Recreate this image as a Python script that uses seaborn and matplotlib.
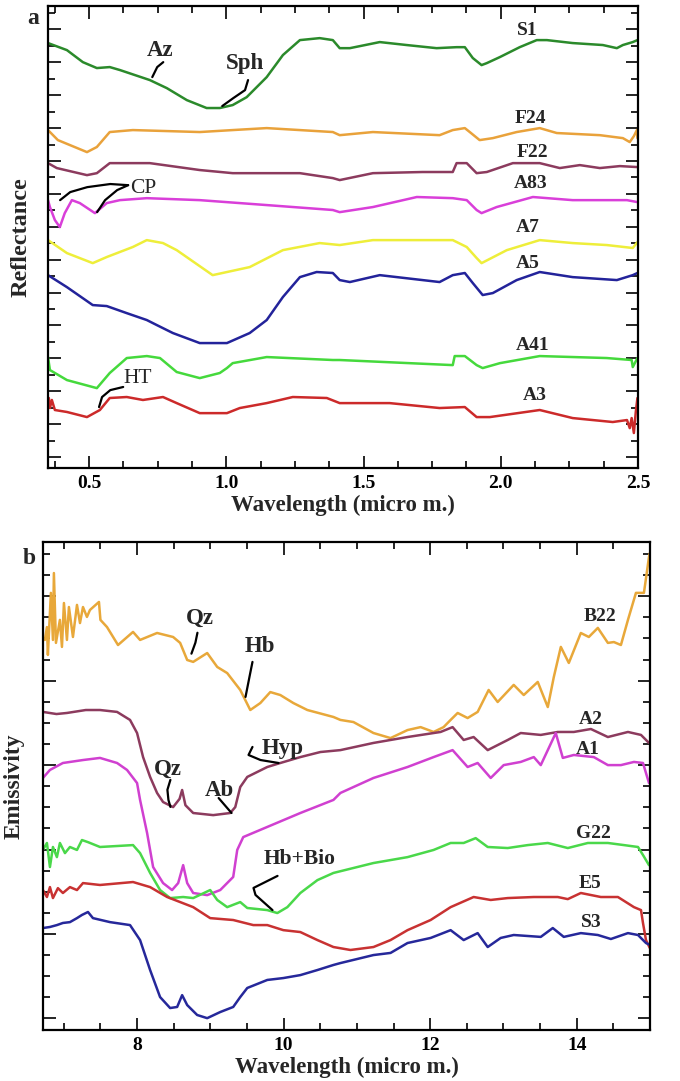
import matplotlib
matplotlib.use("Agg")
import matplotlib.pyplot as plt
from matplotlib.ticker import MultipleLocator, FixedLocator, NullFormatter
import seaborn as sns

sns.set_style("ticks")
plt.rcParams['font.family'] = ['Liberation Serif', 'DejaVu Serif']
plt.rcParams['font.weight'] = 'bold'
plt.rcParams['axes.labelweight'] = 'bold'

# ------------------------------------------------------------
# panel a : VNIR-SWIR reflectance (stacked, arbitrary offsets)
# ------------------------------------------------------------
s1_wl = [0.350, 0.419, 0.477, 0.528, 0.575, 0.612, 0.721, 0.783, 0.856, 0.928, 0.976, 1.023, 1.074,
         1.147, 1.206, 1.268, 1.340, 1.388, 1.413, 1.450, 1.559, 1.657, 1.766, 1.839, 1.869, 1.898,
         1.930, 1.949, 1.997, 2.069, 2.131, 2.168, 2.262, 2.372, 2.423, 2.445, 2.481, 2.498]
s1_r = [25.17, 24.74, 24.01, 23.65, 23.71, 23.53, 22.92, 22.43, 21.70, 21.22, 21.22, 21.40, 21.88,
        23.10, 24.44, 25.35, 25.47, 25.35, 24.86, 24.86, 25.23, 25.05, 24.86, 24.92, 24.92, 24.26,
        23.83, 23.95, 24.32, 24.92, 25.35, 25.35, 25.17, 25.05, 24.86, 25.05, 25.23, 25.35]

f24_wl = [0.350, 0.386, 0.492, 0.528, 0.575, 0.659, 0.903, 1.023, 1.147, 1.388, 1.413, 1.534, 1.777,
          1.825, 1.869, 1.887, 1.923, 1.971, 2.058, 2.142, 2.204, 2.361, 2.445, 2.470, 2.485, 2.496, 2.498]
f24_r = [19.88, 19.27, 18.54, 18.85, 19.76, 19.88, 19.76, 19.88, 20.00, 19.76, 19.57, 19.76, 19.57,
         19.88, 20.00, 19.76, 19.27, 19.39, 19.76, 20.00, 19.70, 19.57, 19.39, 19.15, 19.51, 19.88, 19.39]

f22_wl = [0.350, 0.382, 0.492, 0.528, 0.575, 0.721, 0.903, 1.023, 1.268, 1.388, 1.413, 1.534, 1.715,
          1.825, 1.839, 1.876, 1.912, 1.949, 2.044, 2.142, 2.215, 2.288, 2.361, 2.434, 2.498]
f22_r = [17.87, 17.57, 17.14, 17.26, 17.87, 17.87, 17.45, 17.26, 17.26, 16.96, 16.84, 17.26, 17.33,
         17.33, 17.87, 17.87, 17.26, 17.33, 17.87, 17.87, 17.57, 17.75, 17.57, 17.69, 17.63]

a83_wl = [0.350, 0.357, 0.375, 0.393, 0.411, 0.437, 0.466, 0.521, 0.564, 0.612, 0.710, 0.903, 1.147,
          1.388, 1.413, 1.534, 1.694, 1.825, 1.876, 1.912, 1.930, 1.985, 2.117, 2.262, 2.460, 2.498]
a83_r = [15.62, 15.20, 14.41, 13.98, 14.83, 15.62, 15.44, 14.83, 15.44, 15.62, 15.74, 15.62, 15.32,
         15.02, 14.89, 15.20, 15.81, 15.74, 15.62, 15.02, 14.83, 15.20, 15.81, 15.62, 15.62, 15.50]

a7_wl = [0.350, 0.419, 0.513, 0.564, 0.659, 0.710, 0.769, 0.819, 0.950, 1.085, 1.206, 1.340, 1.413,
         1.534, 1.825, 1.876, 1.912, 1.930, 2.022, 2.142, 2.262, 2.386, 2.481, 2.498]
a7_r = [13.19, 12.40, 11.79, 12.16, 12.77, 13.19, 13.01, 12.58, 11.06, 11.55, 12.58, 13.01, 12.89,
        13.19, 13.19, 12.77, 12.10, 11.79, 12.58, 13.19, 13.01, 12.89, 12.71, 13.07]

a5_wl = [0.350, 0.419, 0.513, 0.564, 0.637, 0.710, 0.747, 0.805, 0.903, 1.002, 1.085, 1.147, 1.206,
         1.268, 1.329, 1.388, 1.413, 1.450, 1.559, 1.777, 1.825, 1.869, 1.898, 1.934, 1.971, 2.058,
         2.142, 2.262, 2.423, 2.481, 2.498]
a5_r = [11.06, 10.33, 9.24, 9.18, 8.75, 8.33, 8.02, 7.54, 6.93, 6.93, 7.54, 8.33, 9.73,
        10.94, 11.25, 11.19, 10.76, 10.64, 11.06, 10.64, 11.06, 11.19, 10.58, 9.85, 9.97, 10.76,
        11.25, 10.94, 10.76, 11.06, 11.19]

a41_wl = [0.350, 0.357, 0.419, 0.528, 0.575, 0.637, 0.710, 0.758, 0.819, 0.903, 0.976, 1.002, 1.023,
          1.147, 1.388, 1.413, 1.825, 1.832, 1.869, 1.912, 1.934, 1.997, 2.142, 2.386, 2.477, 2.481, 2.498]
a41_r = [6.08, 5.29, 4.68, 4.19, 5.11, 6.02, 6.14, 6.02, 5.17, 4.80, 5.11, 5.41, 5.71,
         6.08, 5.90, 5.90, 5.59, 6.14, 6.14, 5.59, 5.41, 5.71, 6.14, 6.02, 5.90, 5.47, 6.02]

a3_wl = [0.350, 0.353, 0.357, 0.364, 0.375, 0.419, 0.492, 0.539, 0.575, 0.637, 0.696, 0.769, 0.819,
         0.903, 1.002, 1.049, 1.147, 1.242, 1.366, 1.413, 1.595, 1.777, 1.869, 1.912, 1.960, 2.142,
         2.262, 2.408, 2.460, 2.470, 2.477, 2.485, 2.492, 2.498]
a3_r = [3.28, 3.59, 2.98, 3.47, 2.86, 2.74, 2.43, 2.86, 3.59, 3.65, 3.47, 3.65, 3.28,
        2.67, 2.67, 2.98, 3.28, 3.65, 3.59, 3.28, 3.28, 2.98, 3.04, 2.43, 2.43, 2.86,
        2.37, 2.13, 2.25, 1.76, 2.37, 1.46, 2.74, 3.59]

# ------------------------------------------------------------
# panel b : TIR emissivity (stacked, arbitrary offsets)
# ------------------------------------------------------------
b22_wl = [6.742, 6.770, 6.783, 6.824, 6.852, 6.865, 6.893, 6.947, 6.975, 7.002, 7.043, 7.070, 7.125,
          7.180, 7.221, 7.262, 7.316, 7.357, 7.480, 7.500, 7.590, 7.740, 7.945, 8.041, 8.273, 8.492,
          8.588, 8.684, 8.766, 8.957, 9.094, 9.230, 9.408, 9.545, 9.682, 9.818, 9.955, 10.133, 10.324,
          10.680, 10.775, 10.953, 11.226, 11.459, 11.691, 11.869, 12.047, 12.183, 12.279, 12.375,
          12.511, 12.648, 12.798, 12.921, 13.140, 13.277, 13.468, 13.605, 13.687, 13.783, 13.892,
          14.056, 14.165, 14.288, 14.425, 14.507, 14.603, 14.699, 14.808, 14.917, 14.986, 14.998]
b22_e = [17.93, 18.54, 17.22, 20.16, 17.93, 21.10, 17.79, 18.88, 17.60, 19.68, 17.93, 19.49, 18.07,
         19.59, 18.73, 19.49, 19.02, 19.35, 19.73, 18.88, 18.54, 17.69, 18.31, 17.93, 18.26, 18.07,
         17.79, 16.98, 16.89, 17.31, 16.65, 16.36, 15.56, 14.61, 14.94, 15.46, 15.32, 14.94, 14.61,
         14.28, 14.14, 14.04, 13.52, 13.28, 13.66, 13.80, 13.57, 13.80, 14.14, 14.47,
         14.23, 14.52, 15.56, 14.99, 15.80, 15.32, 15.94, 14.75, 16.17, 17.60, 16.84,
         18.26, 18.07, 18.50, 17.79, 17.83, 17.69, 18.88, 20.16, 20.16, 21.86, 22.05]

a2_wl = [6.715, 6.900, 7.043, 7.300, 7.494, 7.727, 7.904, 8.000, 8.082, 8.178, 8.273, 8.355, 8.492,
         8.580, 8.615, 8.660, 8.766, 9.039, 9.271, 9.340, 9.408, 9.504, 9.777, 9.955, 10.228, 10.502,
         10.775, 11.226, 11.691, 12.142, 12.306, 12.457, 12.593, 12.785, 13.058, 13.236, 13.509,
         13.741, 13.960, 14.193, 14.425, 14.699, 14.877, 14.986]
a2_e = [14.52, 14.42, 14.47, 14.61, 14.61, 14.52, 14.14, 13.52, 12.38, 11.44, 10.68, 10.25, 10.01,
        10.40, 10.82, 10.10, 9.73, 9.63, 9.73, 10.01, 10.96, 11.44, 11.91, 12.10, 12.38, 12.62,
        12.71, 13.05, 13.33, 13.57, 13.80, 13.19, 13.33, 12.71, 13.19, 13.52, 13.43,
        13.57, 13.57, 13.71, 13.33, 13.57, 13.43, 13.05]

a1_wl = [6.715, 6.811, 6.988, 7.262, 7.494, 7.727, 7.863, 8.000, 8.041, 8.137, 8.219, 8.355, 8.478,
         8.561, 8.629, 8.684, 8.766, 8.957, 9.135, 9.312, 9.367, 9.449, 9.777, 10.228, 10.680, 10.775,
         11.226, 11.691, 12.047, 12.306, 12.511, 12.648, 12.826, 13.003, 13.236, 13.414, 13.509,
         13.605, 13.714, 13.810, 13.960, 14.233, 14.425, 14.603, 14.781, 14.904, 14.986]
a1_e = [11.39, 11.77, 12.10, 12.24, 12.34, 12.10, 11.77, 11.15, 10.35, 8.78, 7.17, 6.41, 6.08,
        6.41, 7.26, 6.41, 5.94, 5.84, 6.08, 6.70, 7.98, 8.59, 9.07, 9.73, 10.35, 10.68,
        11.39, 11.91, 12.38, 12.71, 11.91, 12.10, 11.39, 12.00, 12.15, 12.38, 12.00,
        12.71, 13.52, 12.34, 12.48, 12.38, 12.00, 12.00, 12.15, 12.10, 11.15]

g22_wl = [6.715, 6.770, 6.811, 6.852, 6.906, 6.947, 7.016, 7.084, 7.180, 7.248, 7.330, 7.494, 7.945,
          8.041, 8.178, 8.314, 8.451, 8.629, 8.766, 8.998, 9.094, 9.230, 9.408, 9.504, 9.777, 9.914,
          10.051, 10.228, 10.461, 10.680, 11.226, 11.691, 12.047, 12.279, 12.457, 12.621, 12.785,
          13.058, 13.331, 13.605, 13.878, 14.152, 14.425, 14.644, 14.836, 14.904, 14.986]
g22_e = [7.98, 8.31, 7.17, 8.12, 7.64, 8.31, 7.83, 8.12, 7.98, 8.45, 8.35, 8.12, 8.21,
         7.83, 6.89, 6.08, 5.70, 5.75, 5.70, 6.08, 5.61, 5.27, 5.51, 5.23, 5.13, 4.99,
         5.27, 5.94, 6.55, 6.89, 7.36, 7.64, 7.98, 8.31, 8.31, 8.54, 8.12,
         8.07, 8.21, 8.31, 8.07, 8.31, 8.31, 8.21, 8.12, 7.74, 7.26]

e5_wl = [6.715, 6.770, 6.811, 6.852, 6.920, 6.988, 7.084, 7.180, 7.262, 7.494, 7.945, 8.178, 8.410,
         8.588, 8.766, 8.998, 9.312, 9.586, 9.777, 9.996, 10.228, 10.461, 10.680, 10.912, 11.226,
         11.459, 11.691, 12.006, 12.279, 12.593, 12.826, 13.058, 13.414, 13.741, 13.878, 14.056,
         14.329, 14.562, 14.781, 14.877, 14.904, 14.945, 14.998]
e5_e = [6.08, 5.75, 6.22, 5.70, 6.17, 5.94, 6.22, 6.08, 6.41, 6.32, 6.46, 6.22, 5.75,
        5.51, 5.27, 4.75, 4.66, 4.42, 4.42, 4.18, 4.09, 3.71, 3.38, 3.24, 3.38,
        3.71, 4.18, 4.66, 5.27, 5.75, 5.61, 5.70, 5.75, 5.75, 5.65, 5.94,
        5.75, 5.75, 5.27, 5.13, 4.52, 3.71, 3.33]

s3_wl = [6.715, 6.811, 6.906, 6.988, 7.084, 7.180, 7.248, 7.330, 7.398, 7.631, 7.904, 8.041, 8.178,
         8.314, 8.451, 8.547, 8.615, 8.684, 8.820, 8.957, 9.135, 9.312, 9.408, 9.504, 9.777, 9.996,
         10.228, 10.461, 10.680, 10.775, 11.226, 11.459, 11.691, 12.006, 12.279, 12.457, 12.648,
         12.785, 12.962, 13.140, 13.509, 13.673, 13.823, 14.056, 14.288, 14.466, 14.699, 14.836,
         14.945, 14.998]
s3_e = [4.28, 4.33, 4.42, 4.52, 4.56, 4.75, 4.90, 5.04, 4.75, 4.56, 4.42, 3.71, 2.29,
        1.01, 0.49, 0.54, 1.10, 0.63, 0.16, 0.01, 0.30, 0.54, 1.01, 1.44, 1.82, 1.91,
        2.05, 2.29, 2.53, 2.62, 3.00, 3.10, 3.57, 3.81, 4.18, 3.71, 4.04,
        3.38, 3.81, 3.95, 3.86, 4.28, 3.86, 4.04, 3.95, 3.76, 4.04, 3.95,
        3.57, 3.48]

refl_curves = [("S1", s1_wl, s1_r, "#2b8a2b"), ("F24", f24_wl, f24_r, "#e9a23b"),
               ("F22", f22_wl, f22_r, "#8c3b5e"), ("A83", a83_wl, a83_r, "#d93fd9"),
               ("A7", a7_wl, a7_r, "#eeee3a"), ("A5", a5_wl, a5_r, "#23239a"),
               ("A41", a41_wl, a41_r, "#45d93c"), ("A3", a3_wl, a3_r, "#cc2a2a")]
emis_curves = [("B22", b22_wl, b22_e, "#e8a83a"), ("A2", a2_wl, a2_e, "#8c3b5e"),
               ("A1", a1_wl, a1_e, "#d040d0"), ("G22", g22_wl, g22_e, "#4ad84a"),
               ("E5", e5_wl, e5_e, "#c83232"), ("S3", s3_wl, s3_e, "#26289a")]


def style_axes(ax, xmaj, xmin, ymaj, ymin):
    ax.xaxis.set_major_locator(FixedLocator(xmaj))
    ax.xaxis.set_minor_locator(MultipleLocator(xmin))
    ax.yaxis.set_major_locator(MultipleLocator(ymaj))
    ax.yaxis.set_minor_locator(MultipleLocator(ymin))
    ax.yaxis.set_major_formatter(NullFormatter())
    ax.tick_params(which='both', direction='in', top=True, right=True, width=1.2, colors='black')
    ax.tick_params(which='major', length=9, labelsize=14, pad=5)
    ax.tick_params(which='minor', length=5)
    for sp in ax.spines.values():
        sp.set_linewidth(1.6)
        sp.set_color('black')


def leader(ax, xs, ys):
    ax.plot(xs, ys, color='black', lw=1.6, solid_capstyle='round',
            solid_joinstyle='round', zorder=5)


fig = plt.figure(figsize=(6.8, 10.81), dpi=100)

# ---------- panel a ----------
ax1 = fig.add_axes([0.0706, 0.567, 0.8676, 0.4274])
for name, wl, r, c in refl_curves:
    sns.lineplot(x=wl, y=r, ax=ax1, color=c, linewidth=1.8, sort=False, estimator=None,
                 solid_joinstyle='round')
ax1.set_xlim(0.35, 2.5)
ax1.set_ylim(-0.67, 27.42)
style_axes(ax1, [0.5, 1.0, 1.5, 2.0, 2.5], 0.125, 2, 1)
ax1.set_xlabel("Wavelength (micro m.)", fontsize=16.5, labelpad=2)
ax1.set_ylabel("Reflectance", fontsize=17.5, labelpad=7)

for name, x, y in [("S1", 2.096, 25.96), ("F24", 2.107, 20.61), ("F22", 2.114, 18.54),
                   ("A83", 2.107, 16.66), ("A7", 2.099, 13.98), ("A5", 2.099, 11.79),
                   ("A41", 2.117, 6.81), ("A3", 2.125, 3.77)]:
    ax1.text(x, y, name, fontsize=14, ha='center', va='center')

ax1.text(0.759, 24.74, "Az", fontsize=16.5, ha='center', va='center')
leader(ax1, [0.770, 0.748, 0.730], [24.01, 23.71, 23.10])
ax1.text(1.068, 23.95, "Sph", fontsize=16.5, ha='center', va='center')
leader(ax1, [1.079, 1.068, 1.025, 0.985], [22.92, 22.31, 21.82, 21.34])
ax1.text(0.697, 16.35, "CP", fontsize=15.5, fontweight='normal', ha='center', va='center')
leader(ax1, [0.642, 0.577, 0.493, 0.431, 0.394], [16.53, 16.60, 16.41, 16.11, 15.62])
leader(ax1, [0.642, 0.602, 0.558, 0.529], [16.53, 16.23, 15.62, 14.89])
ax1.text(0.675, 4.80, "HT", fontsize=15.5, fontweight='normal', ha='center', va='center')
leader(ax1, [0.624, 0.577, 0.547, 0.536], [4.26, 4.07, 3.65, 3.04])

# ---------- panel b ----------
ax2 = fig.add_axes([0.0632, 0.0472, 0.8927, 0.4514])
for name, wl, e, c in emis_curves:
    sns.lineplot(x=wl, y=e, ax=ax2, color=c, linewidth=1.8, sort=False, estimator=None,
                 solid_joinstyle='round')
ax2.set_xlim(6.716, 15.0)
ax2.set_ylim(-0.55, 22.57)
style_axes(ax2, [8, 10, 12, 14], 0.5, 4, 1)
ax2.set_xlabel("Wavelength (micro m.)", fontsize=16.5, labelpad=2)
ax2.set_ylabel("Emissivity", fontsize=17, labelpad=8)

for name, x, y in [("B22", 14.316, 19.02), ("A2", 14.195, 14.14), ("A1", 14.153, 12.76),
                   ("G22", 14.234, 8.78), ("E5", 14.180, 6.41), ("S3", 14.193, 4.52)]:
    ax2.text(x, y, name, fontsize=14, ha='center', va='center')

ax2.text(8.852, 18.97, "Qz", fontsize=16.5, ha='center', va='center')
leader(ax2, [8.824, 8.796, 8.742], [18.27, 17.80, 17.28])
ax2.text(9.673, 17.60, "Hb", fontsize=16.5, ha='center', va='center')
leader(ax2, [9.575, 9.534, 9.480], [16.89, 16.18, 15.23])
ax2.text(9.986, 12.81, "Hyp", fontsize=16.5, ha='center', va='center')
leader(ax2, [9.575, 9.521, 9.685, 9.931], [12.86, 12.48, 12.24, 12.10])
ax2.text(8.417, 11.81, "Qz", fontsize=16.5, ha='center', va='center')
leader(ax2, [8.455, 8.414, 8.428, 8.455], [11.30, 10.83, 10.35, 10.02])
ax2.text(9.127, 10.82, "Ab", fontsize=16.5, ha='center', va='center')
leader(ax2, [9.113, 9.289], [10.44, 9.73])
ax2.text(10.22, 7.55, "Hb+Bio", fontsize=15.5, ha='center', va='center')
leader(ax2, [9.917, 9.589, 9.616, 9.848], [6.75, 6.18, 5.85, 5.13])

fig.text(33 / 680, 1 - 18 / 1081, "a", fontsize=17, ha='center', va='center')
fig.text(29 / 680, 1 - 558 / 1081, "b", fontsize=17, ha='center', va='center')

fig.savefig("out.png", dpi=100)
